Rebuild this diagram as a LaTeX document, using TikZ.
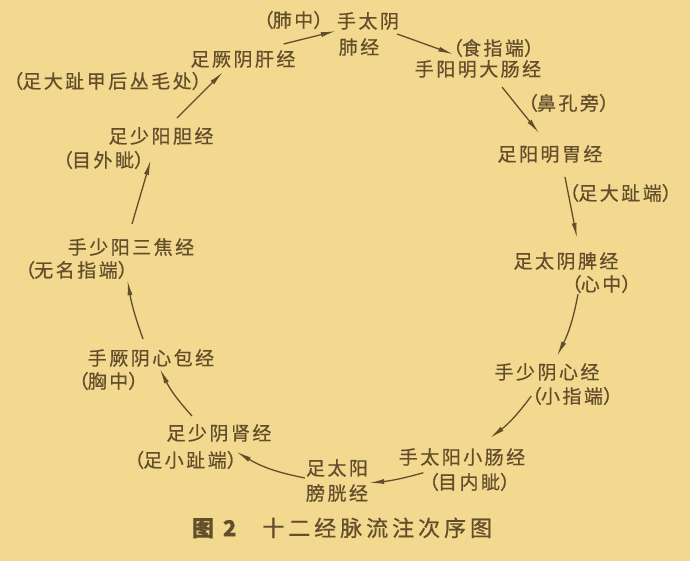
\documentclass[tikz,border=0pt]{standalone}
\usepackage{fontspec}
\setmainfont{Noto Sans CJK SC}[LetterSpace=13, FakeBold=0.6]
\definecolor{jmPaper}{HTML}{F3D88F}
\definecolor{jmInk}{HTML}{634E2B}
\usetikzlibrary{arrows.meta}
\newcommand\kuoL{\makebox[0.45em][l]{\hspace{-0.5em}（}}
\newcommand\kuoR{\makebox[0.45em][l]{）}}

\begin{document}
\begin{tikzpicture}[x=1pt, y=-1pt,
  mai/.style={text=jmInk, inner sep=1pt, font=\fontsize{19pt}{22pt}\selectfont},
  liu/.style={draw=jmInk, line width=1.3pt, -{Latex[length=15pt,width=5pt]}}]
  % paper
  \fill[jmPaper] (0,0) rectangle (690,561);
  % top
  \node[mai] (feiZhong) at (293,20) {\kuoL 肺中\kuoR};
  \node[mai] (feiA) at (368,21) {手太阴};
  \node[mai] (feiB) at (359,47) {肺经};
  \node[mai] (shiZhi) at (493,48) {\kuoL 食指端\kuoR};
  \node[mai] (daChang) at (478,69) {手阳明大肠经};
  \node[mai] (gan) at (243,59) {足厥阴肝经};
  \node[mai] (congMao) at (107,81) {\kuoL 足大趾甲后丛毛处\kuoR};
  % right side
  \node[mai] (biKong) at (568,103) {\kuoL 鼻孔旁\kuoR};
  \node[mai] (wei) at (550,154) {足阳明胃经};
  \node[mai] (daZhi) at (620,193) {\kuoL 足大趾端\kuoR};
  \node[mai] (pi) at (566,261) {足太阴脾经};
  \node[mai] (xinZhong) at (601,284) {\kuoL 心中\kuoR};
  \node[mai] (xin) at (547,372) {手少阴心经};
  \node[mai] (xiaoZhi) at (572,396) {\kuoL 小指端\kuoR};
  % bottom
  \node[mai] (xiaoChang) at (462,457) {手太阳小肠经};
  \node[mai] (muNei) at (469,482) {\kuoL 目内眦\kuoR};
  \node[mai] (pangA) at (337,468) {足太阳};
  \node[mai] (pangB) at (337,493) {膀胱经};
  \node[mai] (shen) at (219,433) {足少阴肾经};
  \node[mai] (xiaoZhiZu) at (185,460) {\kuoL 足小趾端\kuoR};
  % left side
  \node[mai] (xinBao) at (151,358) {手厥阴心包经};
  \node[mai] (xiongZhong) at (108,381) {\kuoL 胸中\kuoR};
  \node[mai] (sanJiao) at (131,247) {手少阳三焦经};
  \node[mai] (wuMing) at (76,270) {\kuoL 无名指端\kuoR};
  \node[mai] (dan) at (161,136) {足少阳胆经};
  \node[mai] (muWai) at (103,160) {\kuoL 目外眦\kuoR};

  % flow
  \draw[liu] ([shift={(-13,-5)}]gan.north east) -- (feiA.south west);
  \draw[liu] ([shift={(-3,3)}]feiA.south east) -- ([shift={(1,-4)}]shiZhi.south west);
  \draw[liu] ([shift={(24,8)}]daChang.south) -- ([shift={(-11,-11)}]wei.north);
  \draw[liu] ([shift={(15,13)}]wei.south) -- ([shift={(11,-13)}]pi.north);
  \draw[liu] ([shift={(7,0)}]xinZhong.south west) to[bend left=8] ([shift={(10,-6)}]xin.north);
  \draw[liu] (xiaoZhi.west) to[bend left=8] ([shift={(28,-9)}]xiaoChang.north);
  \draw[liu] ([shift={(-5,1)}]muNei.north west) to[bend left=5] (pangB.north east);
  \draw[liu] (pangA.south west) to[bend left=10] ([shift={(0,2)}]xiaoZhiZu.north east);
  \draw[liu] ([shift={(-27,-7)}]shen.north) to[bend left=8] ([shift={(9,1)}]xinBao.south);
  \draw[liu] ([shift={(-8,-9)}]xinBao.north) to[bend left=5] (wuMing.south east);
  \draw[liu] ([shift={(1,-13)}]sanJiao.north) -- ([shift={(7,0)}]muWai.east);
  \draw[liu] ([shift={(16,-8)}]dan.north) -- ([shift={(-20,3)}]gan.south);

  % caption
  \node[mai, font=\fontsize{22pt}{26pt}\selectfont\addfontfeature{LetterSpace=18}] (tuMing) at (342,528)
    {\textbf{图 2}\hspace{1em}十二经脉流注次序图};
\end{tikzpicture}
\end{document}
